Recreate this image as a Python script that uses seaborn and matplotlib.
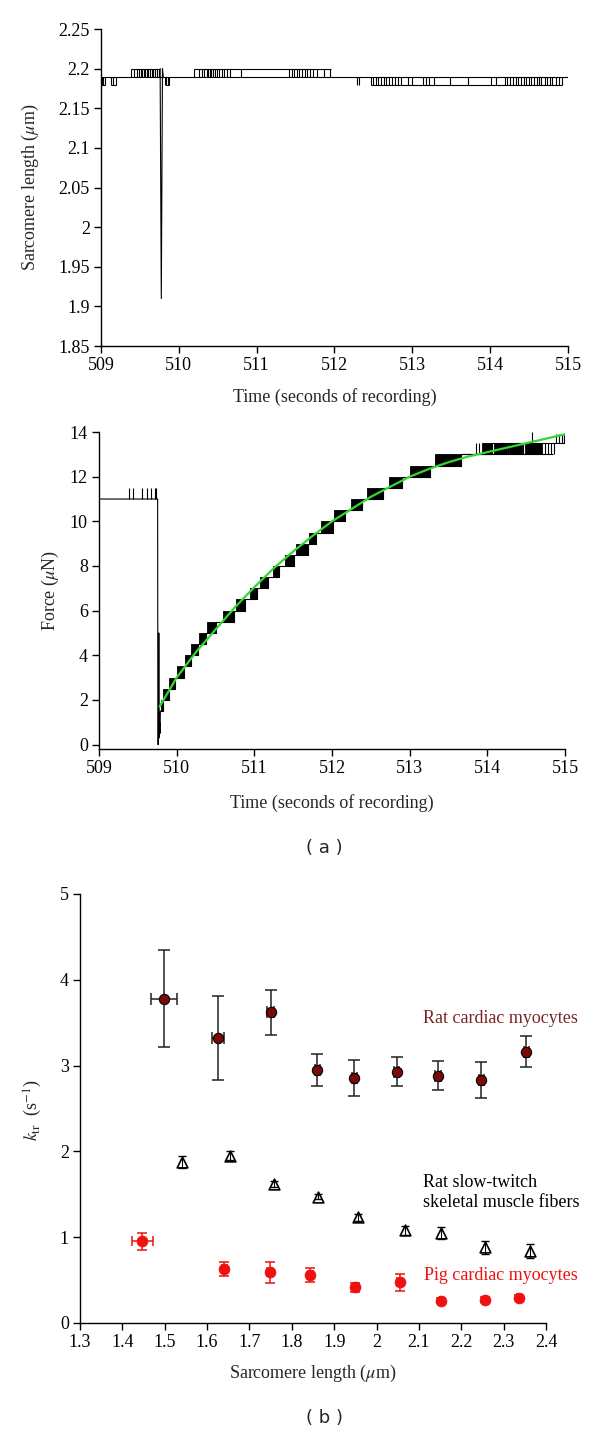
import numpy as np
import pandas as pd
import seaborn as sns
import matplotlib.pyplot as plt
from matplotlib.ticker import FormatStrFormatter, MultipleLocator

sns.set_theme(style="ticks")
plt.rcParams['font.family'] = ['Liberation Serif', 'DejaVu Serif']
plt.rcParams['mathtext.fontset'] = 'stix'

# ---- panel 1: sarcomere length trace ----
# flat levels of the trace (start, end, level)
sl_seg_start = [509.00, 509.38, 510.20, 512.47, 509.00, 509.13, 509.83]
sl_seg_end = [515.00, 509.76, 511.95, 514.92, 509.05, 509.19, 509.88]
sl_seg_level = [2.19, 2.20, 2.20, 2.18, 2.18, 2.18, 2.18]
# quick flickers between 2.18 and 2.19
flick_218 = [509.01, 509.03, 509.05, 509.13, 509.16, 509.19, 509.82, 509.84, 509.86, 509.88,
             512.29, 512.31, 512.47, 512.50, 512.53, 512.56, 512.60, 512.63, 512.66, 512.70,
             512.74, 512.78, 512.82, 512.86, 512.94, 513.00, 513.14, 513.18, 513.22, 513.28,
             513.48, 513.72, 514.01, 514.07, 514.19, 514.22, 514.26, 514.30, 514.33, 514.36,
             514.40, 514.43, 514.46, 514.50, 514.53, 514.56, 514.60, 514.63, 514.66, 514.70,
             514.73, 514.77, 514.80, 514.84, 514.88, 514.92]
# quick flickers between 2.19 and 2.20
flick_219 = [509.38, 509.43, 509.46, 509.49, 509.51, 509.53, 509.55, 509.57, 509.59, 509.61,
             509.63, 509.65, 509.67, 509.70, 509.72, 509.75,
             510.20, 510.26, 510.30, 510.33, 510.36, 510.38, 510.40, 510.42, 510.44, 510.46,
             510.49, 510.52, 510.55, 510.58, 510.62, 510.66, 510.80,
             511.42, 511.45, 511.48, 511.52, 511.55, 511.58, 511.62, 511.65, 511.68, 511.72,
             511.78, 511.86, 511.94]
spike_t = [509.76, 509.775, 509.79, 509.80]
spike_sl = [2.20, 1.91, 2.20, 2.19]

# ---- panel 2: force trace ----
force_pre_t = [509.00, 509.755, 509.758, 509.765, 509.770, 509.775, 509.780, 509.785, 509.790, 509.795]
force_pre_f = [11.0, 11.0, 0.0, 0.0, 5.0, 0.3, 1.0, 0.5, 1.5, 1.5]
# dense flicker blocks while force climbs one 0.5 uN step
block_t0 = [509.80, 509.83, 509.905, 510.00, 510.11, 510.19, 510.29, 510.39, 510.60, 510.77,
            510.94, 511.07, 511.24, 511.40, 511.53, 511.70, 511.86, 512.03, 512.25, 512.45,
            512.73, 513.01, 513.32, 513.93, 514.08, 514.28, 514.48]
block_t1 = [509.83, 509.905, 509.98, 510.09, 510.18, 510.28, 510.38, 510.50, 510.74, 510.88,
            511.04, 511.18, 511.32, 511.51, 511.69, 511.79, 512.01, 512.17, 512.38, 512.66,
            512.90, 513.26, 513.66, 514.05, 514.25, 514.45, 514.70]
block_lo = [1.5, 2.0, 2.5, 3.0, 3.5, 4.0, 4.5, 5.0, 5.5, 6.0, 6.5, 7.0, 7.5, 8.0, 8.5, 9.0,
            9.5, 10.0, 10.5, 11.0, 11.5, 12.0, 12.5, 13.0, 13.0, 13.0, 13.0]
force_flick_t = [509.38, 509.44, 509.56, 509.62, 509.67, 509.72, 509.74,
                 513.86, 513.89, 514.06, 514.27, 514.46, 514.74, 514.78, 514.82, 514.86,
                 514.58, 514.88, 514.92, 514.96, 514.99]
force_flick_lo = [11.0] * 7 + [13.0] * 9 + [13.5] * 5
force_flick_hi = [11.5] * 7 + [13.5] * 9 + [14.0, 13.9, 13.9, 13.9, 13.9]
# exponential fit (green)
fit_t = [509.78, 510.0, 510.25, 510.5, 510.75, 511.0, 511.25, 511.5, 511.75, 512.0, 512.25,
         512.5, 512.75, 513.0, 513.25, 513.5, 513.75, 514.0, 514.25, 514.5, 514.75, 515.0]
fit_f = [1.70, 3.00, 4.15, 5.15, 6.15, 7.05, 7.90, 8.65, 9.35, 10.00, 10.55,
         11.10, 11.55, 12.00, 12.35, 12.65, 12.90, 13.10, 13.30, 13.50, 13.70, 13.90]

# ---- panel 3: ktr vs sarcomere length ----
rat_sl = [1.498, 1.626, 1.750, 1.860, 1.947, 2.048, 2.145, 2.247, 2.353]
rat_k = [3.78, 3.32, 3.62, 2.95, 2.86, 2.93, 2.88, 2.83, 3.16]
rat_kerr = [0.565, 0.49, 0.26, 0.19, 0.21, 0.17, 0.17, 0.21, 0.18]
rat_slerr = [0.030, 0.014, 0.008, 0.006, 0.006, 0.006, 0.006, 0.006, 0.006]
slow_sl = [1.541, 1.655, 1.758, 1.861, 1.956, 2.068, 2.153, 2.256, 2.362]
slow_k = [1.88, 1.95, 1.62, 1.47, 1.23, 1.08, 1.05, 0.88, 0.84]
slow_kerr = [0.07, 0.05, 0.03, 0.03, 0.04, 0.05, 0.07, 0.08, 0.08]
pig_sl = [1.447, 1.641, 1.748, 1.844, 1.950, 2.055, 2.153, 2.257, 2.336]
pig_k = [0.953, 0.628, 0.590, 0.558, 0.415, 0.473, 0.260, 0.270, 0.295]
pig_kerr = [0.10, 0.08, 0.125, 0.085, 0.05, 0.095, 0.03, 0.03, 0.03]
pig_slerr = [0.025, 0.006, 0.006, 0.006, 0.006, 0.006, 0.004, 0.004, 0.004]

FS = 13
fig = plt.figure(figsize=(6, 14.33), dpi=100)
ax1 = fig.add_axes([0.1683, 0.7585, 0.7783, 0.2212])
ax2 = fig.add_axes([0.165, 0.4773, 0.7767, 0.2212])
ax3 = fig.add_axes([0.1333, 0.0768, 0.7767, 0.2994])


def style_axis(ax):
    sns.despine(ax=ax)
    for s in ['left', 'bottom']:
        ax.spines[s].set_color('black')
        ax.spines[s].set_linewidth(1.0)
    ax.tick_params(direction='out', length=5, width=1.0, colors='black', labelsize=FS, pad=3)
    ax.xaxis.label.set_va('center')
    ax.yaxis.label.set_va('center')
    ax.yaxis.label.set_ha('center')


# panel 1
lw = 0.8
ax1.hlines(sl_seg_level, sl_seg_start, sl_seg_end, color='black', lw=lw)
ax1.vlines(flick_218, 2.18, 2.19, color='black', lw=lw)
ax1.vlines(flick_219, 2.19, 2.20, color='black', lw=lw)
sns.lineplot(x=spike_t, y=spike_sl, sort=False, estimator=None, color='black', lw=lw, ax=ax1)
ax1.set_xlim(509, 515)
ax1.set_ylim(1.85, 2.25)
ax1.yaxis.set_major_locator(MultipleLocator(0.05))
ax1.yaxis.set_major_formatter(FormatStrFormatter('%g'))
ax1.set_xlabel('Time (seconds of recording)', fontsize=FS)
ax1.set_ylabel(r'Sarcomere length ($\mu$m)', fontsize=FS)
style_axis(ax1)
ax1.xaxis.set_label_coords(0.5, -0.161)
ax1.yaxis.set_label_coords(-0.150, 0.5)

# panel 2
sns.lineplot(x=force_pre_t, y=force_pre_f, sort=False, estimator=None, color='black', lw=lw, ax=ax2)
for t0, t1, lo in zip(block_t0, block_t1, block_lo):
    ax2.fill_between([t0, t1], lo, lo + 0.5, color='black', lw=0.6)
stair_t = [force_pre_t[-1]] + block_t1 + [515.0]
stair_f = [block_lo[0]] + [lo + 0.5 for lo in block_lo] + [block_lo[-1] + 0.5]
sns.lineplot(x=stair_t, y=stair_f, sort=False, estimator=None, color='black', lw=lw,
             drawstyle='steps-post', ax=ax2)
# lower level still visible under the last dense region
ax2.hlines(13.0, 513.66, 514.85, color='black', lw=lw)
ax2.vlines(force_flick_t, force_flick_lo, force_flick_hi, color='black', lw=lw)
sns.lineplot(x=fit_t, y=fit_f, sort=False, estimator=None, color='#33D633', lw=1.6, ax=ax2)
ax2.set_xlim(509, 515)
ax2.set_ylim(-0.2, 14)
ax2.set_yticks(range(0, 15, 2))
ax2.set_xlabel('Time (seconds of recording)', fontsize=FS)
ax2.set_ylabel(r'Force ($\mu$N)', fontsize=FS)
style_axis(ax2)
ax2.xaxis.set_label_coords(0.5, -0.170)
ax2.yaxis.set_label_coords(-0.105, 0.5)

# panel 3
dark_red = '#7A0A0A'
ax3.errorbar(rat_sl, rat_k, yerr=rat_kerr, xerr=rat_slerr, fmt='none', ecolor='#222222',
             elinewidth=1.1, capsize=4, capthick=1.1, zorder=2)
sns.scatterplot(x=rat_sl, y=rat_k, color=dark_red, edgecolor='black', linewidth=0.8, s=55,
                zorder=3, ax=ax3)
sns.scatterplot(x=slow_sl, y=slow_k, marker='^', color='white', edgecolor='black', linewidth=1.2,
                s=60, zorder=3, ax=ax3)
ax3.errorbar(slow_sl, slow_k, yerr=slow_kerr, fmt='none', ecolor='black',
             elinewidth=0.8, capsize=3, capthick=1.0, zorder=4)
ax3.errorbar(pig_sl, pig_k, yerr=pig_kerr, xerr=pig_slerr, fmt='none', ecolor='#EE1111',
             elinewidth=1.1, capsize=3.5, capthick=1.1, zorder=2)
sns.scatterplot(x=pig_sl, y=pig_k, color='#F01010', edgecolor='#F01010', linewidth=0.5, s=62,
                zorder=3, ax=ax3)
ax3.text(2.109, 3.55, 'Rat cardiac myocytes', color='#7A2424', fontsize=FS, va='center')
ax3.text(2.109, 1.52, 'Rat slow-twitch\nskeletal muscle fibers', color='black', fontsize=FS,
         va='center', linespacing=1.25)
ax3.text(2.112, 0.55, 'Pig cardiac myocytes', color='#EE1111', fontsize=FS, va='center')
ax3.set_xlim(1.3, 2.4)
ax3.set_ylim(0, 5)
ax3.xaxis.set_major_locator(MultipleLocator(0.1))
ax3.xaxis.set_major_formatter(FormatStrFormatter('%g'))
ax3.set_xlabel(r'Sarcomere length ($\mu$m)', fontsize=FS)
ax3.set_ylabel(r'$k_{\rm tr}$  (s$^{-1}$)', fontsize=FS)
style_axis(ax3)
ax3.xaxis.set_label_coords(0.5, -0.1166)
ax3.yaxis.set_label_coords(-0.101, 0.497)

fig.text(0.54, 0.408, '( a )', fontsize=FS, family='DejaVu Sans', ha='center', va='center')
fig.text(0.54, 0.0105, '( b )', fontsize=FS, family='DejaVu Sans', ha='center', va='center')

fig.savefig('out.png', dpi=100)
